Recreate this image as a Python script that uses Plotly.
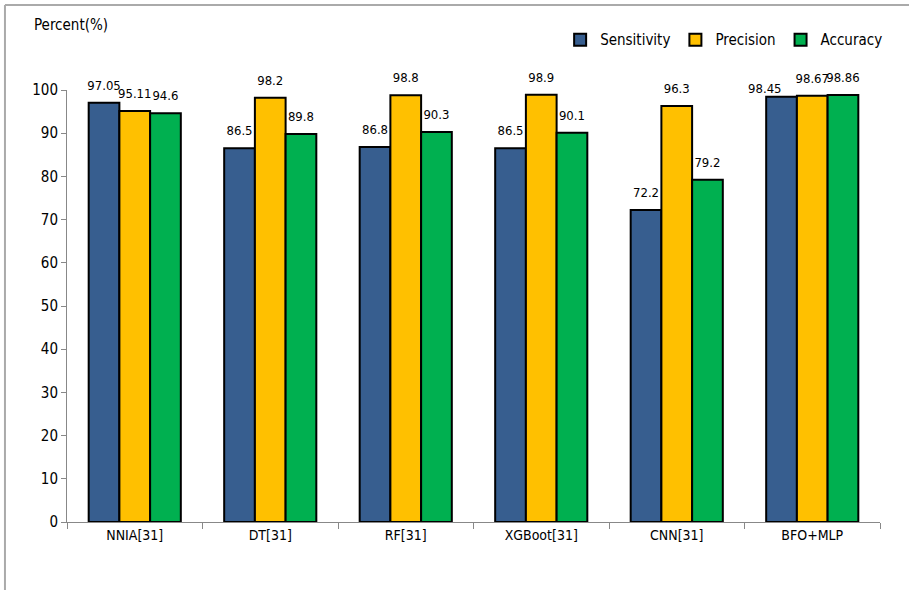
import plotly.graph_objects as go

categories = ["NNIA[31]", "DT[31]", "RF[31]", "XGBoot[31]", "CNN[31]", "BFO+MLP"]
sensitivity = [97.05, 86.5, 86.8, 86.5, 72.2, 98.45]
precision = [95.11, 98.2, 98.8, 98.9, 96.3, 98.67]
accuracy = [94.6, 89.8, 90.3, 90.1, 79.2, 98.86]
sens_labels = ["97.05", "86.5", "86.8", "86.5", "72.2", "98.45"]
prec_labels = ["95.11", "98.2", "98.8", "98.9", "96.3", "98.67"]
acc_labels = ["94.6", "89.8", "90.3", "90.1", "79.2", "98.86"]

FONT = "DejaVu Sans Condensed, Liberation Sans, sans-serif"

# label placement styles (per point)
sens_pos = ["top center"] * 5 + ["top left"]
sens_gap = [14] * 5 + [0]

series = [
    ("Sensitivity", sensitivity, sens_labels, "#375E8F", sens_pos, sens_gap),
    ("Precision", precision, prec_labels, "#FFC000", "top center", 14),
    ("Accuracy", accuracy, acc_labels, "#00B050", "top center", 14),
]

fig = go.Figure()
for i, (name, vals, labs, col, pos, gap) in enumerate(series):
    fig.add_trace(go.Bar(
        x=categories, y=vals, name=name,
        offsetgroup=str(i), alignmentgroup="a",
        marker=dict(color=col, line=dict(color="black", width=2)),
    ))
for i, (name, vals, labs, col, pos, gap) in enumerate(series):
    fig.add_trace(go.Scatter(
        x=categories, y=vals, text=labs, mode="markers+text",
        offsetgroup=str(i), alignmentgroup="a",
        textposition=pos, cliponaxis=False, showlegend=False,
        marker=dict(size=gap, opacity=0), hoverinfo="skip",
        textfont=dict(size=13, color="black", family=FONT),
    ))

fig.update_layout(
    width=909, height=590,
    paper_bgcolor="white", plot_bgcolor="white",
    margin=dict(l=67, r=29, t=90, b=68),
    barmode="group", bargap=0.32, bargroupgap=0,
    scattermode="group", scattergap=0.32,
    font=dict(family=FONT, size=14, color="black"),
    legend=dict(orientation="h", x=1.01, xanchor="right", y=1.116, yanchor="middle",
                font=dict(size=15, family=FONT), traceorder="normal",
                itemwidth=30),
    showlegend=True,
)
fig.update_xaxes(showline=True, linecolor="#888888", linewidth=1,
                 ticks="outside", tickson="boundaries", ticklen=6, tickcolor="#888888",
                 tickfont=dict(size=14, family=FONT))
fig.update_yaxes(range=[0, 100], dtick=10, showline=True, linecolor="#888888", linewidth=1,
                 ticks="outside", ticklen=5, tickcolor="#888888", showgrid=False,
                 zeroline=False, tickfont=dict(size=15, family=FONT))

fig.add_annotation(text="Percent(%)", xref="paper", yref="paper", x=-0.043, y=1.15,
                   xanchor="left", yanchor="middle", showarrow=False,
                   font=dict(size=15, family=FONT))

# outer frame lines (top and left)
fig.add_shape(type="line", xref="paper", yref="paper", x0=-0.0763, x1=1.05, y0=1.197, y1=1.197,
              line=dict(color="#AAAAAA", width=2))
fig.add_shape(type="line", xref="paper", yref="paper", x0=-0.0763, x1=-0.0763, y0=1.197, y1=-0.2,
              line=dict(color="#AAAAAA", width=2))

fig.write_html("out.html")
